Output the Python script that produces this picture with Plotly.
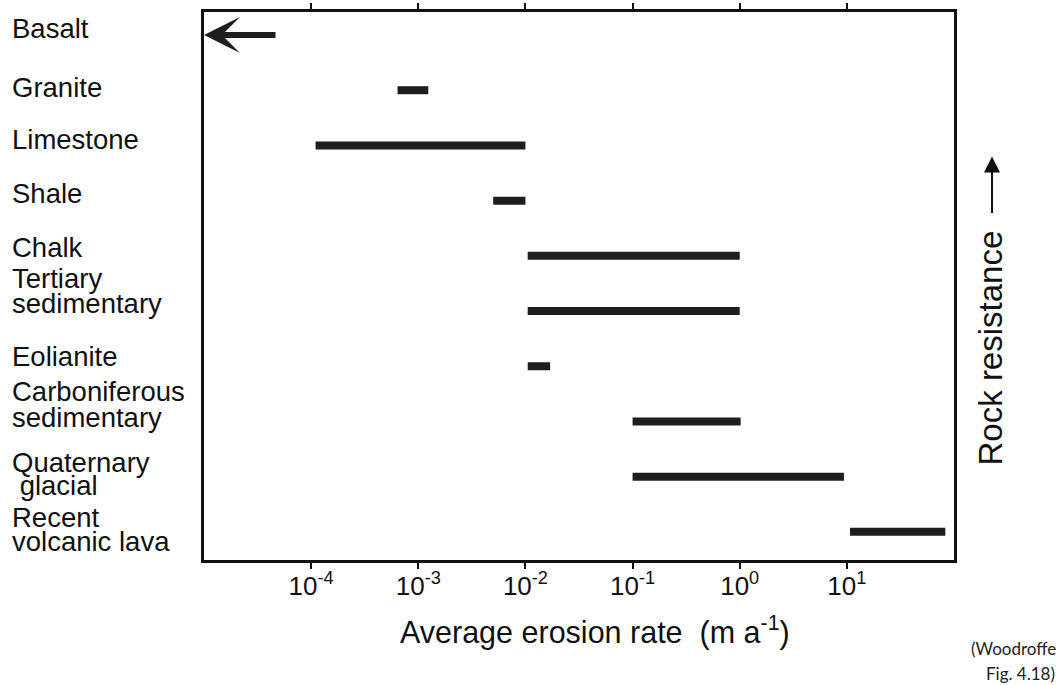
import math
import plotly.graph_objects as go

# ---------------- data ----------------
ROCKS = ["Basalt", "Granite", "Limestone", "Shale", "Chalk",
         "Tertiary sedimentary", "Eolianite", "Carboniferous sedimentary",
         "Quaternary glacial", "Recent volcanic lava"]
LABEL_LINES = [["Basalt"], ["Granite"], ["Limestone"], ["Shale"], ["Chalk"],
               ["Tertiary", "sedimentary"], ["Eolianite"],
               ["Carboniferous", "sedimentary"], ["Quaternary", " glacial"],
               ["Recent", "volcanic lava"]]
RATE_LOW = [1e-5, 6.4e-4, 1.1e-4, 5.0e-3, 1.05e-2, 1.05e-2, 1.05e-2, 0.1, 0.1, 10.7]
RATE_HIGH = [4.8e-5, 1.24e-3, 1.0e-2, 1.0e-2, 1.0, 1.0, 1.7e-2, 1.02, 9.4, 83.0]
OPEN_ENDED_LOW = [True, False, False, False, False, False, False, False, False, False]
TICK_VALUES = [1e-4, 1e-3, 1e-2, 1e-1, 1e0, 1e1]
TICK_TEXT = ["10<sup>-4</sup>", "10<sup>-3</sup>", "10<sup>-2</sup>",
             "10<sup>-1</sup>", "10<sup>0</sup>", "10<sup>1</sup>"]
X_TITLE = "Average erosion rate  (m a<sup>-1</sup>)"
Y_TITLE = "Rock resistance"
SOURCE_LINES = ["(Woodroffe", "Fig. 4.18)"]

# ---------------- style / layout ----------------
FONT = "Liberation Sans, Arial, sans-serif"
BAR_COLOR = "#1e1e1e"
# vertical pixel offsets of each label line relative to its bar
LABEL_SHIFTS = [[7], [3], [6], [7], [8], [33, 8], [10], [30, 4], [14, -9], [14, -10]]

fig = go.Figure()

xs, ys = [], []
for i, (lo, hi, open_lo) in enumerate(zip(RATE_LOW, RATE_HIGH, OPEN_ENDED_LOW)):
    if open_lo:
        continue
    xs += [lo, hi, None]
    ys += [i, i, None]

fig.add_trace(go.Scatter(x=xs, y=ys, mode="lines",
                         line=dict(color=BAR_COLOR, width=8),
                         hoverinfo="skip", showlegend=False))

annotations = []
# open-ended (arrow) ranges
for i, (lo, hi, open_lo) in enumerate(zip(RATE_LOW, RATE_HIGH, OPEN_ENDED_LOW)):
    if open_lo:
        annotations.append(dict(
            x=math.log10(lo), y=i, ax=math.log10(hi), ay=i,
            xref="x", yref="y", axref="x", ayref="y",
            text="", showarrow=True, arrowhead=3, arrowsize=1.0,
            arrowwidth=6, arrowcolor=BAR_COLOR, standoff=0, startstandoff=0))

# category labels
for i, (lines, shifts) in enumerate(zip(LABEL_LINES, LABEL_SHIFTS)):
    for line, sh in zip(lines, shifts):
        annotations.append(dict(
            x=-0.2587, xref="paper", y=i, yref="y", yshift=sh,
            text=line, showarrow=False, xanchor="left", yanchor="middle",
            font=dict(family=FONT, size=27.5, color="#111")))

# x title
annotations.append(dict(x=0.521, y=-0.129, xref="paper", yref="paper",
                        text=X_TITLE, showarrow=False, xanchor="center",
                        yanchor="middle",
                        font=dict(family=FONT, size=30.5, color="#111")))
# rock resistance label (rotated) and arrow
annotations.append(dict(x=1.048, y=0.386, xref="paper", yref="paper",
                        text=Y_TITLE, showarrow=False, textangle=-90,
                        xanchor="center", yanchor="middle",
                        font=dict(family=FONT, size=33, color="#111")))
annotations.append(dict(x=1.0507, y=0.7364, xref="paper", yref="paper",
                        ax=0, ay=58, text="", showarrow=True, arrowhead=2,
                        arrowsize=1.6, arrowwidth=2, arrowcolor="#111"))
# source note
SRC_FONT = dict(family="Lato, Open Sans, sans-serif", size=17, color="#222")
annotations.append(dict(x=1.1387, y=-0.161, xref="paper", yref="paper",
                        text=SOURCE_LINES[0], showarrow=False,
                        xanchor="right", yanchor="middle", font=SRC_FONT))
annotations.append(dict(x=1.1373, y=-0.207, xref="paper", yref="paper",
                        text=SOURCE_LINES[1], showarrow=False,
                        xanchor="right", yanchor="middle", font=SRC_FONT))

fig.update_layout(
    template="none",
    width=1060, height=685,
    margin=dict(l=204, r=106, t=12, b=125, pad=0, autoexpand=False),
    paper_bgcolor="white", plot_bgcolor="white",
    showlegend=False,
    annotations=annotations,
    xaxis=dict(type="log", range=[-5.0, 2.0], automargin=False,
               tickvals=TICK_VALUES, ticktext=TICK_TEXT,
               ticks="outside", ticklen=6, tickwidth=2, tickcolor="#111",
               ticklabelstandoff=-5,
               showline=True, linecolor="#111", linewidth=2.5, mirror="ticks",
               showgrid=False, zeroline=False,
               tickfont=dict(family=FONT, size=26, color="#111")),
    yaxis=dict(range=[9.51, -0.417], automargin=False,
               showticklabels=False, ticks="",
               showline=True, linecolor="#111", linewidth=2.5, mirror=True,
               showgrid=False, zeroline=False),
)

fig.write_html(
    "out.html",
    config={"displayModeBar": False},
    post_script="document.body.style.margin='0';document.body.style.overflow='hidden';",
)
